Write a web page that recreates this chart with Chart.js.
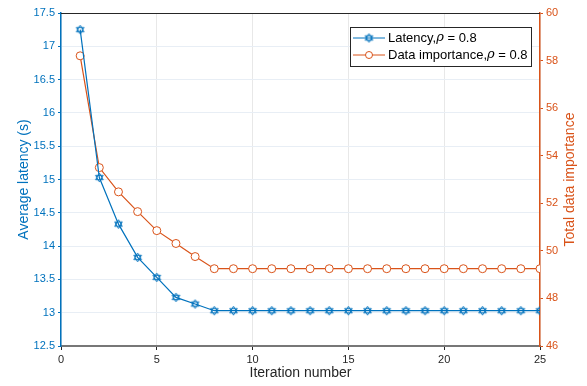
<!DOCTYPE html>
<html>
<head>
<meta charset="utf-8">
<script src="https://cdn.jsdelivr.net/npm/chart.js@4"></script>
<style>
  html, body { margin: 0; padding: 0; background: #fff; }
  #wrap { width: 587px; height: 386px; }
</style>
</head>
<body>
<div id="wrap"><canvas id="grafico"></canvas></div>
<script>
const iteracoes = [1,2,3,4,5,6,7,8,9,10,11,12,13,14,15,16,17,18,19,20,21,22,23,24,25]
const latencia = [17.25,15.03,14.33,13.83,13.53,13.23,13.13,13.03,13.03,13.03,13.03,13.03,13.03,13.03,13.03,13.03,13.03,13.03,13.03,13.03,13.03,13.03,13.03,13.03,13.03]
const importancia = [58.2,53.5,52.48,51.65,50.85,50.31,49.76,49.25,49.25,49.25,49.25,49.25,49.25,49.25,49.25,49.25,49.25,49.25,49.25,49.25,49.25,49.25,49.25,49.25,49.25]
const nomeSeries = ["Latency,", "Data importance,"]
const tituloDireita = 'Total data importance'

const azul = '#0072BD'
const laranja = '#D95319'
const fonte = 'Arial, "Liberation Sans", Helvetica, sans-serif'

// marcador hexagrama (estrela de Davi) do MATLAB
const criarHexagrama = () => {
    const c = document.createElement('canvas')
    c.width = 11; c.height = 11
    const g = c.getContext('2d')
    g.strokeStyle = azul
    g.lineWidth = 1
    const r = 4.4, cx = 5.5, cy = 5.5
    for (const rot of [-Math.PI / 2, Math.PI / 2]) {
        g.beginPath()
        for (let k = 0; k < 3; k++) {
            const a = rot + k * 2 * Math.PI / 3
            const px = cx + r * Math.cos(a), py = cy + r * Math.sin(a)
            k === 0 ? g.moveTo(px, py) : g.lineTo(px, py)
        }
        g.closePath()
        g.stroke()
    }
    return c
}
const hexagrama = criarHexagrama()

const paraPontos = (ys) => iteracoes.map((x, i) => ({ x, y: ys[i] }))

const legendaInterna = {
    id: 'legendaInterna',
    afterDraw(chart) {
        const { ctx, chartArea } = chart
        ctx.save()
        // caixa (box on)
        ctx.strokeStyle = '#262626'
        ctx.lineWidth = 1
        ctx.beginPath()
        ctx.moveTo(chartArea.left, chartArea.top + 0.5)
        ctx.lineTo(chartArea.right, chartArea.top + 0.5)
        ctx.stroke()

        // titulo do eixo direito, lido de baixo para cima como no MATLAB
        ctx.save()
        ctx.translate(chart.width - 17, (chartArea.top + chartArea.bottom) / 2)
        ctx.rotate(-Math.PI / 2)
        ctx.fillStyle = laranja
        ctx.font = '14px ' + fonte
        ctx.textAlign = 'center'
        ctx.textBaseline = 'middle'
        ctx.fillText(tituloDireita, 0, 0)
        ctx.restore()

        const w = 181, h = 39
        const x0 = chartArea.right - 9 - w, y0 = chartArea.top + 14
        ctx.fillStyle = '#fff'
        ctx.fillRect(x0, y0, w, h)
        ctx.strokeRect(x0 + 0.5, y0 + 0.5, w, h)

        const linhas = [
            { cor: azul, nome: nomeSeries[0], y: y0 + 11 },
            { cor: laranja, nome: nomeSeries[1], y: y0 + 28 }
        ]
        linhas.forEach((l, i) => {
            ctx.strokeStyle = l.cor
            ctx.lineWidth = 1
            ctx.beginPath()
            ctx.moveTo(x0 + 3, l.y)
            ctx.lineTo(x0 + 35, l.y)
            ctx.stroke()
            if (i === 0) {
                ctx.drawImage(hexagrama, x0 + 19 - 5.5, l.y - 5.5)
            } else {
                ctx.beginPath()
                ctx.arc(x0 + 19, l.y, 3.5, 0, Math.PI * 2)
                ctx.fillStyle = '#fff'
                ctx.fill()
                ctx.stroke()
            }
            ctx.fillStyle = '#000'
            ctx.textBaseline = 'middle'
            ctx.font = '13px ' + fonte
            let tx = x0 + 38
            ctx.fillText(l.nome, tx, l.y)
            tx += ctx.measureText(l.nome).width
            ctx.font = 'italic 13px "DejaVu Serif", "Liberation Serif", serif'
            ctx.fillText('\u03C1', tx, l.y)
            tx += ctx.measureText('\u03C1').width
            ctx.font = '13px ' + fonte
            ctx.fillText(' = 0.8', tx, l.y)
        })
        ctx.restore()
    }
}

const criarGrafico = () => {
    const ctx = document.querySelector('#grafico')
    new Chart(ctx, {
        type: 'line',
        data: {
            datasets: [{
                label: nomeSeries[0],
                data: paraPontos(latencia),
                yAxisID: 'y',
                borderColor: azul,
                backgroundColor: 'rgba(0,0,0,0)',
                borderWidth: 1.2,
                pointStyle: hexagrama,
                tension: 0
            }, {
                label: nomeSeries[1],
                data: paraPontos(importancia),
                yAxisID: 'y2',
                borderColor: laranja,
                backgroundColor: '#fff',
                borderWidth: 1.2,
                pointStyle: 'circle',
                pointRadius: 4,
                pointBorderWidth: 1,
                tension: 0
            }]
        },
        options: {
            responsive: true,
            maintainAspectRatio: false,
            animation: false,
            layout: { padding: { top: 13, left: 0, right: 0, bottom: 0 } },
            plugins: { legend: { display: false }, tooltip: { enabled: false } },
            scales: {
                x: {
                    type: 'linear', min: 0, max: 25,
                    ticks: { stepSize: 5, color: '#262626', font: { size: 11, family: fonte }, padding: 3 },
                    grid: { color: '#e8e8e8', tickLength: 4, tickColor: '#262626' },
                    border: { color: '#777', width: 2 },
                    title: { display: true, text: 'Iteration number', color: '#262626', font: { size: 14, family: fonte }, padding: { top: 0 } },
                    afterFit: (s) => { s.height = 40 }
                },
                y: {
                    position: 'left', min: 12.5, max: 17.5,
                    ticks: { stepSize: 0.5, color: azul, font: { size: 11, family: fonte }, padding: 3, callback: (v) => String(v) },
                    grid: { color: '#e8eef5', tickLength: 3, tickColor: azul },
                    border: { color: azul, width: 1.5 },
                    title: { display: true, text: 'Average latency (s)', color: azul, font: { size: 14, family: fonte }, padding: { top: 16, bottom: 0 } },
                    afterFit: (s) => { s.width = 61 }
                },
                y2: {
                    position: 'right', min: 46, max: 60,
                    ticks: { stepSize: 2, color: laranja, font: { size: 11, family: fonte }, padding: 3 },
                    grid: { drawOnChartArea: false, tickLength: 3, tickColor: laranja },
                    border: { color: laranja, width: 1.5 },
                    title: { display: false },
                    afterFit: (s) => { s.width = 47 }
                }
            }
        },
        plugins: [legendaInterna]
    })
}
criarGrafico()
</script>
</body>
</html>
